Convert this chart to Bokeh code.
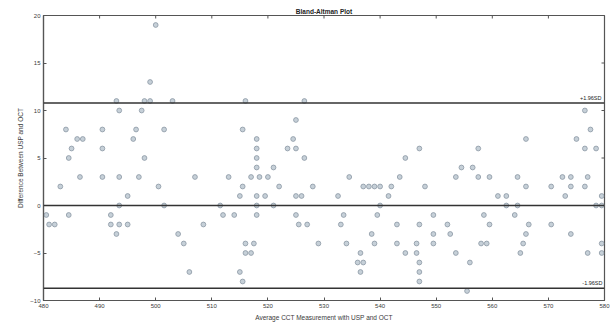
import math
from bokeh.plotting import figure
from bokeh.models import ColumnDataSource, FixedTicker, Span, Label
from bokeh.embed import file_html
from bokeh.resources import INLINE

# ---- data ----
avg_cct = [500, 499, 493, 498, 499, 503, 493.5, 497.5, 484, 490.5, 496.5, 501.5,
           486, 487, 496, 485, 490.5, 484.5, 498, 486.5, 490.5, 493.5, 497, 483,
           500.5, 495, 493.5, 501.5, 480.5, 484.5, 492, 481, 482, 492, 493.5, 495,
           493, 504, 505,
           516, 526.5, 525, 515.5, 518, 524.5, 518, 523.5, 525, 518, 526.5, 518,
           521, 507, 513, 517, 518.5, 520, 515.5, 522, 528, 515, 518, 519.5, 525,
           526, 511.5, 518, 521, 512, 514, 518, 525, 508.5, 525.5, 527, 516,
           517.5, 529, 516, 517, 506, 515, 515.5,
           547, 544.5, 534.5, 543.5, 553.5, 537, 538, 539, 540, 542, 548, 532.5,
           541.5, 540, 533.5, 539.5, 549.5, 533, 543, 547, 552, 538.5, 549.5,
           552.5, 534, 539, 543, 546.5, 549.5, 536.5, 544.5, 546.5, 553.5, 536,
           537, 547, 536.5, 547, 547,
           576.5, 577.5, 566, 575, 557.5, 576.5, 578.5, 554.5, 556.5, 557.5,
           559.5, 564.5, 572.5, 574, 577, 566, 570.5, 574, 576.5, 561, 562.5, 573,
           579.5, 562.5, 564.5, 578.5, 579.5, 558.5, 564, 559.5, 566.5, 570.5,
           566, 574, 558, 559, 565.5, 579.5, 565, 577, 579.5, 556, 555.5]
diff_cct = [19, 13, 11, 11, 11, 11, 10, 10, 8, 8, 8, 8,
            7, 7, 7, 6, 6, 5, 5, 3, 3, 3, 3, 2,
            2, 1, 0, 0, -1, -1, -1, -2, -2, -2, -2, -2,
            -3, -3, -4,
            11, 11, 9, 8, 7, 7, 6, 6, 6, 5, 5, 4,
            4, 3, 3, 3, 3, 3, 2, 2, 2, 1, 1, 1, 1,
            1, 0, 0, 0, -1, -1, -1, -1, -2, -2, -2, -4,
            -4, -4, -5, -5, -7, -7, -8,
            6, 5, 3, 3, 3, 2, 2, 2, 2, 2, 2, 1,
            1, 0, -1, -1, -1, -2, -2, -2, -2, -3, -3,
            -3, -4, -4, -4, -4, -4, -5, -5, -5, -5, -6,
            -6, -6, -7, -7, -8,
            10, 8, 7, 7, 6, 6, 6, 4, 4, 3,
            3, 3, 3, 3, 3, 2, 2, 2, 2, 1, 1, 1,
            1, 0, 0, 0, 0, -1, -1, -2, -2, -2,
            -3, -3, -4, -4, -4, -4, -5, -5, -5, -6, -9]

mid_line = 0
upper_loa = 10.8
lower_loa = -8.7
upper_text = "+1.96SD"
lower_text = "-1.96SD"

x_ticks = [480, 490, 500, 510, 520, 530, 540, 550, 560, 570, 580]
y_ticks = [-10, -5, 0, 5, 10, 15, 20]
x_lim = (480, 580)
y_lim = (-10, 20)

FONT = "Liberation Sans"
INK = "#3a3a3a"
FRAME = "#555555"

src = ColumnDataSource(dict(x=avg_cct, y=diff_cct))

p = figure(width=614, height=324, x_range=x_lim, y_range=y_lim,
           output_backend="svg", toolbar_location=None,
           title="Bland-Altman Plot",
           min_border_left=43, min_border_right=10, min_border_top=15,
           min_border_bottom=24)
p.background_fill_color = "white"
p.border_fill_color = "white"
p.outline_line_color = FRAME
p.outline_line_width = 1.2
p.xgrid.visible = False
p.ygrid.visible = False

p.title.align = "center"
p.title.text_font = FONT
p.title.text_font_size = "6.5px"
p.title.text_font_style = "bold"
p.title.text_color = "#222222"
p.title.offset = 0
p.title.standoff = 2

for ax in (p.xaxis[0], p.yaxis[0]):
    ax.axis_line_color = FRAME
    ax.axis_line_width = 1.2
    ax.major_tick_in = 3
    ax.major_tick_out = 0
    ax.minor_tick_in = 0
    ax.minor_tick_out = 0
    ax.major_tick_line_color = FRAME
    ax.major_label_text_font = FONT
    ax.major_label_text_color = INK
    ax.major_label_text_font_size = "6px"
    ax.major_label_standoff = 3
    ax.axis_label_text_font = FONT
    ax.axis_label_text_color = INK
    ax.axis_label_text_font_style = "normal"
    ax.axis_label_text_font_size = "6.5px"
    ax.axis_label_standoff = 3

p.xaxis.ticker = FixedTicker(ticks=x_ticks)
p.yaxis.ticker = FixedTicker(ticks=y_ticks)
p.xaxis.axis_label = "Average CCT Measurement with USP and OCT"
p.yaxis.axis_label = "Difference Between USP and OCT"

# inward ticks on the top and right edges of the box
p.scatter(x=x_ticks, y=[y_lim[1]] * len(x_ticks), marker="dash", size=6,
          angle=math.pi / 2, line_color=FRAME, line_width=1)
p.scatter(x=[x_lim[1]] * len(y_ticks), y=y_ticks, marker="dash", size=6,
          line_color=FRAME, line_width=1)

for val in (upper_loa, mid_line, lower_loa):
    p.add_layout(Span(location=val, dimension="width", line_color="#333333",
                      line_width=1.5))

p.scatter("x", "y", source=src, marker="circle", size=4.8,
          fill_color="#c6d0d8", line_color="#8a97a3", line_width=0.8)

p.add_layout(Label(x=x_lim[1], y=upper_loa, text=upper_text, text_font=FONT,
                   text_font_size="5.5px", text_color="#222222",
                   text_align="right", text_baseline="bottom",
                   x_offset=-3, y_offset=2))
p.add_layout(Label(x=x_lim[1], y=lower_loa, text=lower_text, text_font=FONT,
                   text_font_size="5.5px", text_color="#222222",
                   text_align="right", text_baseline="bottom",
                   x_offset=-2, y_offset=2))

open("out.html", "w").write(file_html(p, INLINE))
